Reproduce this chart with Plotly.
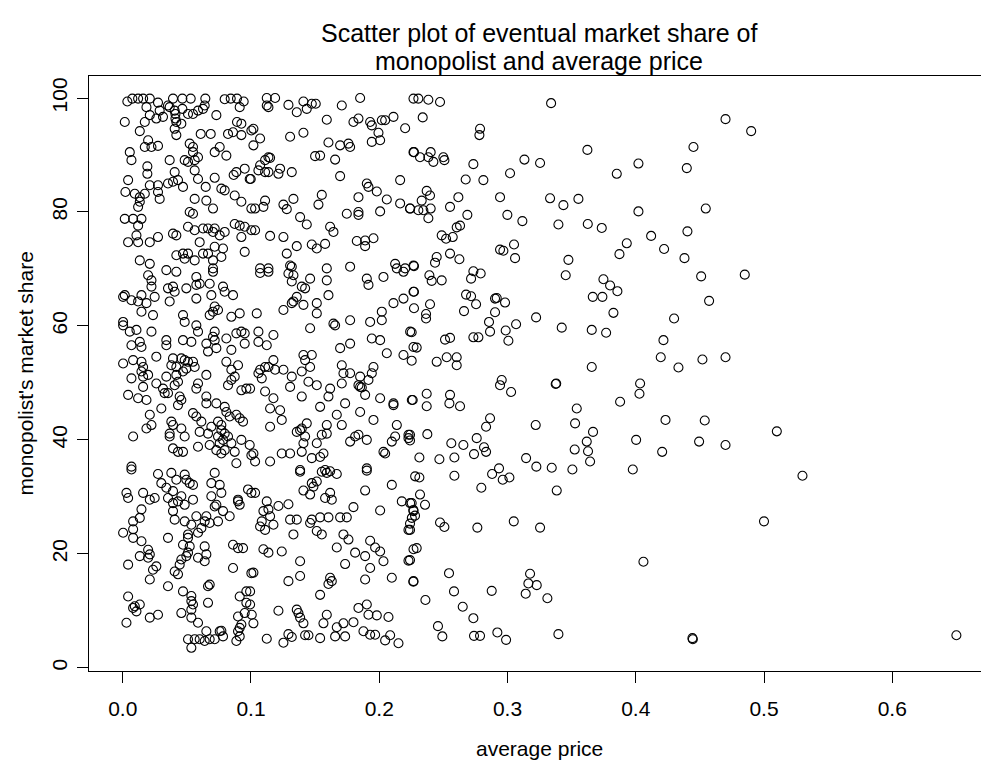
import plotly.graph_objects as go

# Average price vs eventual market share of the monopolist, grouped by price band.
# Prices below 0.10
price_lo_a = [0.0036,0.0075,0.0120,0.0159,0.0211,0.0275,0.0392,0.0465,0.0530,0.0644,0.0639,0.0626,0.0795,0.0842,0.0891,0.0943,0.0912,0.0185,0.0288,0.0353,0.0366,0.0405,0.0411,0.0465,0.0411,0.0211,0.0262,0.0314,0.0509,0.0548,0.0587,0.0730,0.0891,0.0925,0.0016,0.0172,0.0418,0.0457,0.0133,0.0405,0.0860,0.1003,0.0608,0.0686,0.0821,0.0925,0.0418,0.0198,0.0172,0.0224,0.0275,0.0522,0.0548,0.0548,0.0756,0.0717,0.0808,0.0055,0.0068,0.0366,0.0483,0.0509,0.0561,0.0587,0.0192,0.0192,0.0405,0.0561,0.0951,0.0886,0.0865,0.0990,0.0042,0.0275,0.0211,0.0353,0.0392,0.0431,0.0470,0.0587,0.0717,0.0769,0.0647,0.0795,0.0021,0.0094,0.0133,0.0133,0.0172,0.0120,0.0275,0.0288,0.0561,0.0652,0.0873,0.0925,0.1003,0.0704,0.0522,0.0548,0.0016,0.0081,0.0146,0.0120,0.0107,0.0120,0.0042,0.0211,0.0275,0.0392,0.0418,0.0509,0.0561,0.0626,0.0665,0.0717,0.0704,0.0756,0.0795,0.0873,0.0912,0.0951,0.0925,0.1003,0.0600,0.0717,0.0782,0.0769,0.0951,0.0418,0.0470,0.0509,0.0483,0.0561,0.0626,0.0665,0.0704,0.0133,0.0211,0.0340,0.0704]
share_lo_a = [99.4,99.9,99.9,99.9,99.9,99.2,99.9,99.9,99.9,99.9,98.7,98.1,99.8,99.9,99.9,99.4,98.4,98.4,97.8,98.7,98.4,97.8,97.2,98.1,96.4,97.0,96.4,96.7,97.2,97.2,97.8,97.0,95.8,95.5,95.8,95.8,95.8,95.5,94.2,94.6,94.0,94.3,93.7,93.7,93.7,93.5,93.5,92.6,91.4,91.4,91.6,92.0,91.4,90.5,91.4,90.5,89.9,90.5,89.1,89.1,89.1,88.8,89.1,89.6,88.0,86.7,87.0,87.3,87.6,87.0,86.5,85.8,85.6,84.7,84.7,85.0,85.3,85.6,84.4,85.8,86.0,84.1,84.4,83.8,83.5,83.2,82.6,81.8,83.2,80.9,83.5,82.3,82.3,82.0,82.9,81.8,80.6,80.6,80.0,79.7,78.8,78.8,78.8,77.6,75.9,74.7,74.7,74.7,75.6,76.2,75.9,77.4,76.8,77.1,77.1,77.1,76.5,75.9,76.5,77.9,77.6,77.4,75.6,76.8,74.7,73.9,73.6,72.1,73.0,72.4,72.7,72.7,71.8,71.5,72.7,72.7,71.5,71.5,70.9,69.8,70.1]

price_lo_b = [0.0198,0.0224,0.0418,0.0574,0.0704,0.0224,0.0353,0.0392,0.0405,0.0496,0.0574,0.0600,0.0678,0.0782,0.0795,0.0860,0.0016,0.0003,0.0068,0.0120,0.0146,0.0185,0.0249,0.0366,0.0574,0.0691,0.0146,0.0236,0.0470,0.0483,0.0717,0.0704,0.0743,0.0678,0.0847,0.0912,0.0003,0.0003,0.0055,0.0107,0.0224,0.0574,0.0587,0.0717,0.0704,0.0717,0.0652,0.0665,0.0730,0.0808,0.0886,0.0925,0.0951,0.0951,0.0847,0.0068,0.0133,0.0146,0.0340,0.0340,0.0470,0.0535,0.0003,0.0081,0.0146,0.0159,0.0146,0.0159,0.0198,0.0068,0.0159,0.0262,0.0392,0.0418,0.0457,0.0483,0.0509,0.0548,0.0561,0.0496,0.0470,0.0379,0.0340,0.0418,0.0405,0.0431,0.0262,0.0314,0.0353,0.0327,0.0587,0.0574,0.0652,0.0808,0.0899,0.0847,0.0873,0.0847,0.0821,0.0925,0.0964,0.0042,0.0120,0.0185,0.0301,0.0444,0.0457,0.0431,0.0652,0.0652,0.0730,0.0795,0.0808,0.0834,0.0886,0.0912,0.0938,0.0211,0.0224,0.0185,0.0081,0.0379,0.0392,0.0457,0.0366,0.0366,0.0483,0.0548,0.0574,0.0613,0.0600,0.0665,0.0691,0.0743,0.0769,0.0769,0.0795,0.0743,0.0782,0.0756,0.0821,0.0847,0.0925,0.0990,0.0392,0.0431,0.0470,0.0587,0.0678,0.0730,0.0769,0.0795,0.0873,0.0886,0.0068,0.1003]
share_lo_b = [68.9,68.0,69.5,68.6,69.5,66.9,66.6,66.9,66.0,66.6,67.2,67.4,67.4,66.9,66.0,65.4,65.4,65.1,64.5,64.3,65.4,64.0,65.1,64.3,64.8,65.4,62.5,61.9,61.9,60.7,63.4,62.5,62.8,61.9,61.6,62.2,60.7,60.1,59.0,59.3,59.0,60.1,59.0,59.0,58.1,57.5,56.9,55.5,56.1,57.8,58.7,59.0,58.7,56.9,55.8,56.6,57.2,56.3,57.5,56.6,57.5,57.2,53.4,54.0,53.7,52.8,52.0,51.1,51.4,50.8,49.3,54.6,54.3,52.8,54.3,54.0,53.7,53.7,52.8,52.5,52.0,53.1,51.1,51.4,49.6,50.2,49.9,49.0,48.2,48.2,49.9,49.0,51.4,53.7,53.1,52.3,51.1,50.5,49.6,48.7,49.0,47.9,47.3,47.0,45.5,47.6,47.0,46.1,47.6,46.4,46.4,45.8,44.9,44.1,44.4,43.8,43.2,44.4,42.6,42.0,40.6,43.2,42.6,42.0,41.1,40.6,40.6,44.7,44.1,43.2,41.4,41.1,42.3,43.2,42.6,41.7,41.1,40.6,40.0,39.4,40.6,39.4,40.0,39.1,38.5,37.9,37.9,38.8,39.1,38.2,37.6,38.2,37.9,35.9,35.3,37.3]

price_lo_c = [0.0068,0.0275,0.0379,0.0483,0.0496,0.0522,0.0548,0.0717,0.0301,0.0340,0.0392,0.0418,0.0457,0.0353,0.0431,0.0548,0.0483,0.0392,0.0392,0.0691,0.0756,0.0769,0.0691,0.0730,0.0717,0.0782,0.0834,0.0899,0.0912,0.0899,0.0977,0.1003,0.0029,0.0042,0.0159,0.0211,0.0249,0.0146,0.0133,0.0081,0.0081,0.0003,0.0081,0.0146,0.0405,0.0483,0.0574,0.0652,0.0639,0.0678,0.0743,0.0535,0.0613,0.0587,0.0509,0.0509,0.0522,0.0470,0.0353,0.0198,0.0211,0.0198,0.0133,0.0262,0.0236,0.0211,0.0042,0.0457,0.0444,0.0405,0.0431,0.0509,0.0496,0.0587,0.0639,0.0652,0.0639,0.0860,0.0899,0.0938,0.0860,0.1003,0.0353,0.0470,0.0535,0.0535,0.0548,0.0535,0.0457,0.0535,0.0587,0.0665,0.0665,0.0678,0.0042,0.0081,0.0094,0.0133,0.0107,0.0029,0.0211,0.0275,0.0912,0.0964,0.0964,0.0951,0.0899,0.0925,0.0912,0.0899,0.0912,0.0886,0.0509,0.0561,0.0600,0.0639,0.0678,0.0717,0.0756,0.0769,0.0782,0.0652,0.0535]
share_lo_c = [34.8,34.0,34.2,33.9,33.0,32.4,32.1,34.2,32.4,31.6,31.0,33.0,30.1,29.8,29.2,29.5,28.6,28.9,27.5,32.4,32.1,30.7,30.1,28.6,28.3,27.5,26.6,29.5,28.6,29.2,31.3,30.7,30.7,29.8,30.7,29.5,29.8,27.8,26.3,25.7,24.3,23.7,22.8,22.2,26.0,25.7,26.6,26.6,25.7,25.4,25.7,25.1,24.5,23.7,23.4,22.8,21.3,21.6,22.8,20.7,19.9,19.3,19.6,17.8,17.2,15.5,18.1,19.0,18.1,16.9,16.4,20.2,19.6,19.3,21.3,19.9,18.7,21.6,21.0,21.0,17.5,16.6,14.3,13.4,12.6,11.7,11.1,10.2,9.6,8.8,7.9,11.4,14.3,14.6,12.5,10.5,10.8,11.1,9.9,7.9,8.8,9.3,12.5,13.4,11.4,9.6,9.0,7.6,7.0,6.4,5.5,4.7,5.0,5.0,5.0,4.7,5.0,5.0,6.4,6.5,5.5,6.4,3.5]

# Prices between 0.10 and 0.23
price_mid_a = [0.1123,0.1188,0.1123,0.1136,0.1292,0.1357,0.1409,0.1435,0.1474,0.1505,0.1708,0.1851,0.2267,0.1591,0.1799,0.1838,0.1929,0.1942,0.2020,0.2046,0.2111,0.2202,0.1019,0.1071,0.1019,0.1305,0.1409,0.1994,0.1604,0.1695,0.1760,0.1773,0.1942,0.2007,0.2267,0.1500,0.1539,0.1656,0.1136,0.1149,0.1110,0.1071,0.1058,0.1110,0.1136,0.1227,0.1214,0.1318,0.1695,0.1903,0.1916,0.1981,0.2163,0.0998,0.1552,0.1526,0.1331,0.1253,0.1279,0.1110,0.1097,0.1032,0.1383,0.1435,0.1617,0.1643,0.1838,0.2059,0.1747,0.1838,0.1838,0.2007,0.2163,0.2241,0.1032,0.1149,0.1253,0.1357,0.1279,0.1474,0.1513,0.1578,0.1825,0.1890,0.1890,0.1955,0.1071,0.1136,0.1305,0.1318,0.1591,0.1773,0.2124,0.2137,0.2202,0.2267]
share_mid_a = [100.0,100.0,98.7,98.4,98.8,97.5,99.4,98.1,99.0,99.0,98.7,100.0,99.9,96.2,95.8,96.4,95.8,95.2,96.1,96.1,96.7,94.7,94.6,92.9,91.7,93.2,93.9,93.9,92.2,91.7,92.0,91.4,92.3,92.6,90.5,89.8,89.9,89.2,89.6,89.5,89.1,88.2,87.3,87.0,87.0,87.6,86.7,87.0,86.3,85.0,84.4,83.6,85.6,85.8,83.0,81.3,82.3,81.3,80.5,82.0,80.9,80.6,79.1,77.8,77.4,76.5,82.6,82.2,79.7,80.0,79.5,80.1,81.5,80.6,76.8,75.8,75.6,74.0,72.7,74.3,73.6,74.4,74.9,75.0,74.0,75.4,70.1,70.1,70.6,70.4,70.1,70.4,70.9,70.1,70.1,70.6]

price_mid_b = [0.1071,0.1136,0.1292,0.1331,0.1318,0.1396,0.1422,0.1461,0.1591,0.1604,0.1903,0.1916,0.2033,0.2189,0.2267,0.1045,0.1253,0.1318,0.1331,0.1357,0.1409,0.1513,0.1513,0.1643,0.1656,0.1773,0.1929,0.2020,0.2020,0.2111,0.2189,0.2241,0.1058,0.1058,0.1123,0.1175,0.1461,0.1695,0.1773,0.1942,0.2007,0.2059,0.2189,0.2267,0.1409,0.1474,0.1422,0.1461,0.1396,0.1071,0.1058,0.1084,0.1110,0.1136,0.1175,0.1188,0.1253,0.1318,0.1305,0.1448,0.1513,0.1617,0.1708,0.1721,0.1708,0.1773,0.1851,0.1838,0.1851,0.1864,0.1916,0.1942,0.1955,0.1890,0.2007,0.2111,0.2111,0.2254,0.0993,0.1110,0.1175,0.1396,0.1539,0.1604,0.1734,0.1851,0.1955,0.2137,0.1149,0.1227,0.1240,0.1149,0.1357,0.1383,0.1396,0.1422,0.1435,0.1409,0.1513,0.1552,0.1591,0.1591,0.1669,0.1708,0.1773,0.1812,0.1838,0.1903,0.2098,0.2124,0.2228,0.2228,0.2033,0.2046,0.1240,0.1305,0.1396,0.1474,0.1539,0.1565,0.1019,0.1032,0.1149,0.1383,0.1578,0.1903]
share_mid_b = [69.3,69.5,69.2,68.9,67.8,66.9,66.6,68.3,68.0,65.4,68.3,67.2,68.6,69.5,66.0,62.2,62.8,64.0,64.3,65.1,63.7,64.0,62.2,60.4,60.1,61.0,60.7,62.5,61.0,64.0,64.8,59.0,59.0,57.2,56.6,58.4,59.6,56.1,56.9,57.8,57.5,55.2,54.9,56.3,54.9,54.9,54.0,52.8,52.0,52.3,51.7,50.8,52.8,52.8,54.0,52.3,52.3,51.1,49.3,50.2,49.6,49.0,53.1,51.7,49.9,51.7,51.1,49.6,49.3,49.2,50.5,51.7,52.8,47.9,47.3,46.4,46.1,47.0,49.0,48.5,47.3,47.6,45.8,47.6,46.4,44.9,43.5,42.6,45.5,45.2,43.5,42.3,41.4,41.7,42.0,40.6,42.9,39.4,39.4,40.9,41.1,42.6,44.4,42.6,39.7,40.6,40.9,40.0,39.7,40.6,40.3,40.9,37.9,37.6,37.6,37.6,37.9,36.8,37.0,37.6,37.6,36.2,36.2,34.7,34.7,35.0]

price_mid_c = [0.1383,0.1552,0.1591,0.1617,0.1669,0.1903,0.2098,0.2280,0.1032,0.1409,0.1461,0.1474,0.1487,0.1513,0.1578,0.1617,0.1630,0.1890,0.2176,0.2241,0.2267,0.2254,0.2228,0.1123,0.1097,0.1136,0.1149,0.1084,0.1071,0.1110,0.1175,0.1214,0.1292,0.1305,0.1357,0.1461,0.1474,0.1513,0.1552,0.1539,0.1604,0.1695,0.1747,0.1799,0.2007,0.1331,0.1721,0.1760,0.1669,0.1097,0.1136,0.1240,0.1812,0.1890,0.1929,0.1968,0.2007,0.2033,0.2228,0.2267,0.1383,0.1734,0.1929,0.1019,0.1292,0.1383,0.1617,0.1630,0.1604,0.1890,0.2098,0.2267,0.0993,0.1539,0.0993,0.1006,0.1019,0.1214,0.1357,0.1370,0.1383,0.1409,0.1591,0.1565,0.1838,0.1903,0.1916,0.1981,0.2072,0.1669,0.1721,0.1799,0.1877,0.1929,0.1968,0.2046,0.2085,0.2150,0.1123,0.1253,0.1292,0.1318,0.1422,0.1448,0.1539,0.1656,0.1734]
share_mid_c = [34.4,34.4,34.2,34.5,34.0,34.6,32.1,33.6,30.7,31.1,30.4,32.4,31.8,32.7,29.8,30.7,29.5,31.1,29.2,28.9,27.5,26.3,24.2,29.2,27.5,27.8,26.6,25.7,24.8,24.2,25.1,28.4,28.7,26.0,26.0,25.4,26.0,24.0,23.4,26.4,26.4,26.4,26.4,28.2,27.6,23.4,23.4,22.5,21.1,20.8,20.2,20.4,20.2,19.6,22.3,21.1,20.4,18.7,18.8,20.8,18.7,18.2,17.5,16.7,15.2,16.1,15.8,15.2,14.7,15.5,15.8,15.2,13.4,12.8,11.1,9.3,7.8,10.0,10.2,9.6,8.8,7.8,9.3,7.8,10.5,11.1,9.3,9.2,8.9,7.1,7.8,8.0,6.4,5.8,5.8,4.8,5.7,4.3,5.1,4.4,5.9,5.4,5.7,5.7,5.2,5.5,5.5]

# Prices above 0.22
price_hi_a = [0.2305,0.2383,0.2474,0.2339,0.3340,0.2786,0.2781,0.2271,0.2318,0.2401,0.2383,0.2422,0.2500,0.2508,0.2734,0.3132,0.3254,0.3623,0.4450,0.4021,0.3852,0.4398,0.3020,0.2674,0.2812,0.2370,0.2396,0.2331,0.2240,0.2305,0.2344,0.2401,0.2383,0.2617,0.2552,0.2687,0.2630,0.2604,0.2942,0.2999,0.3116,0.3332,0.3436,0.3553,0.3397,0.3626,0.3735,0.4021,0.4546,0.4403,0.4120,0.4221,0.3930,0.3873,0.4380,0.3475,0.3454,0.2487,0.2521,0.2573,0.2552,0.2625,0.2448,0.2435,0.2271,0.2391,0.2409,0.2487,0.2734,0.2716,0.2791,0.2942,0.2968,0.3051,0.3059,0.2677,0.2716,0.2755,0.2903,0.2916,0.2981,0.2661,0.2903,0.2856,0.2864,0.2986,0.3007,0.3067,0.3223,0.2271,0.2271,0.2365,0.2365,0.2396,0.2253,0.2292,0.2253,0.2448,0.2526,0.2604,0.2604,0.2513,0.2552,0.2734,0.2773,0.3748,0.3800,0.3857,0.3665,0.3740,0.3826,0.3423,0.3657,0.3769,0.4299,0.4216,0.4195,0.4520,0.4572,0.4510,0.3657,0.4333]
share_hi_a = [99.9,99.7,99.3,96.6,99.1,94.6,93.5,90.5,89.6,90.5,89.6,88.8,89.6,89.1,88.4,89.2,88.6,90.9,91.4,88.5,86.7,87.7,86.8,85.7,85.6,83.7,82.9,82.0,80.6,80.3,80.3,80.6,78.9,82.6,80.9,79.5,77.6,77.3,82.6,79.5,78.4,82.4,81.2,82.3,77.8,77.9,77.2,80.1,80.6,76.6,75.8,73.5,74.5,72.6,71.9,71.6,68.9,75.9,75.3,75.6,72.7,71.7,72.1,71.1,70.5,68.9,67.9,68.0,69.6,68.3,69.2,73.4,73.2,74.3,71.9,65.5,65.2,63.8,64.8,64.9,64.1,62.6,62.4,60.7,59.0,59.2,57.4,60.3,61.5,66.0,63.1,62.1,61.3,63.8,58.9,56.2,53.9,53.7,54.5,54.5,53.1,57.6,57.9,58.0,58.0,68.2,67.1,66.1,65.1,65.1,62.3,59.7,59.3,58.8,61.3,57.5,54.5,54.1,64.4,68.7,52.8,52.7]

price_hi_b = [0.2955,0.2942,0.3028,0.3376,0.3380,0.4034,0.4029,0.3878,0.2261,0.2370,0.2370,0.2552,0.2547,0.2630,0.2864,0.2833,0.3220,0.3540,0.3527,0.3667,0.3618,0.3628,0.3644,0.3524,0.3506,0.4232,0.4538,0.4494,0.4003,0.4206,0.3977,0.2240,0.2240,0.2375,0.2562,0.2656,0.2760,0.2817,0.2833,0.2739,0.2586,0.2469,0.2313,0.2313,0.2586,0.3145,0.3225,0.3345,0.3384,0.2880,0.2934,0.2963,0.3015,0.2796,0.2318,0.2357,0.2253,0.2266,0.2279,0.2240,0.2240,0.2474,0.2508,0.2765,0.3049,0.3254,0.2292,0.2240,0.2266,0.2544,0.2583,0.2360,0.2651,0.2734,0.2877,0.3176,0.3163,0.3228,0.3142,0.3311,0.2458,0.2492,0.2739,0.2786,0.2921,0.2989,0.3397,0.4060,0.4442,0.4445]
share_hi_b = [50.5,49.6,48.4,49.8,49.9,49.9,48.1,46.7,47.0,48.1,45.9,47.9,46.4,45.9,43.8,42.3,42.6,45.5,42.9,41.4,39.7,38.0,36.2,38.3,34.8,43.5,43.4,39.7,40.0,37.9,34.8,40.9,39.9,41.0,39.4,39.1,40.3,38.7,37.9,37.5,36.9,36.6,36.9,33.4,33.7,36.8,35.3,35.1,31.1,34.0,35.0,33.0,33.4,31.6,30.4,28.6,28.9,27.7,26.7,25.3,24.2,25.5,24.7,24.6,25.7,24.6,21.0,18.9,15.1,16.6,13.4,11.9,10.7,8.7,13.5,16.5,14.8,14.5,13.0,12.2,7.3,5.5,5.6,5.6,6.2,4.9,5.9,18.6,5.2,5.0]

# The few markets with the highest prices
price_top = [0.470, 0.490, 0.470, 0.470, 0.510, 0.530, 0.500, 0.650, 0.485]
share_top = [96.3, 94.2, 54.5, 39.1, 41.5, 33.7, 25.7, 5.7, 69.0]

prices = price_lo_a + price_lo_b + price_lo_c + price_mid_a + price_mid_b + price_mid_c + price_hi_a + price_hi_b + price_top
shares = share_lo_a + share_lo_b + share_lo_c + share_mid_a + share_mid_b + share_mid_c + share_hi_a + share_hi_b + share_top

x_ticks = [0.0, 0.1, 0.2, 0.3, 0.4, 0.5, 0.6]
x_tick_text = ["0.0", "0.1", "0.2", "0.3", "0.4", "0.5", "0.6"]
y_ticks = [0, 20, 40, 60, 80, 100]
y_tick_text = ["0", "20", "40", "60", "80", "100"]

FONT = "Liberation Sans, Arial, Helvetica, sans-serif"
AXIS_SIZE = 21
TITLE_SIZE = 25

fig = go.Figure(
    go.Scatter(
        x=prices,
        y=shares,
        mode="markers",
        marker=dict(symbol="circle-open", size=9, color="black", line=dict(width=1.1, color="black")),
        hoverinfo="skip",
    )
)

W, H = 981, 763
L, R, T, B = 89, 0, 76, 92

fig.update_layout(
    width=W,
    height=H,
    autosize=False,
    margin=dict(l=L, r=R, t=T, b=B, pad=0),
    paper_bgcolor="white",
    plot_bgcolor="white",
    showlegend=False,
    font=dict(family=FONT, size=AXIS_SIZE, color="black"),
    xaxis=dict(
        range=[-0.0263, 0.6692],
        tickvals=x_ticks,
        ticktext=x_tick_text,
        ticks="outside",
        ticklen=11,
        tickwidth=1,
        tickcolor="black",
        showgrid=False,
        zeroline=False,
        showline=True,
        linecolor="black",
        linewidth=1,
        mirror=True,
        ticklabelstandoff=8,
        tickfont=dict(family=FONT, size=AXIS_SIZE),
        automargin=False,
    ),
    yaxis=dict(
        range=[-0.57, 103.87],
        tickvals=y_ticks,
        ticktext=y_tick_text,
        ticks="outside",
        ticklen=11,
        tickwidth=1,
        tickcolor="black",
        tickangle=-90,
        showgrid=False,
        zeroline=False,
        showline=True,
        linecolor="black",
        linewidth=1,
        mirror=False,
        ticklabelstandoff=2,
        tickfont=dict(family=FONT, size=AXIS_SIZE),
        automargin=False,
    ),
    annotations=[
        dict(text="Scatter plot of eventual market share of", xref="paper", yref="paper",
             x=0.5045, y=1.072, xanchor="center", yanchor="middle", showarrow=False,
             font=dict(family=FONT, size=TITLE_SIZE)),
        dict(text="monopolist and average price", xref="paper", yref="paper",
             x=0.5045, y=1.026, xanchor="center", yanchor="middle", showarrow=False,
             font=dict(family=FONT, size=TITLE_SIZE)),
        dict(text="average price", xref="paper", yref="paper",
             x=0.5045, y=-0.131, xanchor="center", yanchor="middle", showarrow=False,
             font=dict(family=FONT, size=AXIS_SIZE)),
        dict(text="monopolist's market share", xref="paper", yref="paper",
             x=-0.0717, y=0.5, xanchor="center", yanchor="middle", showarrow=False,
             textangle=-90, font=dict(family=FONT, size=AXIS_SIZE)),
    ],
)

fig.write_html("out.html")
